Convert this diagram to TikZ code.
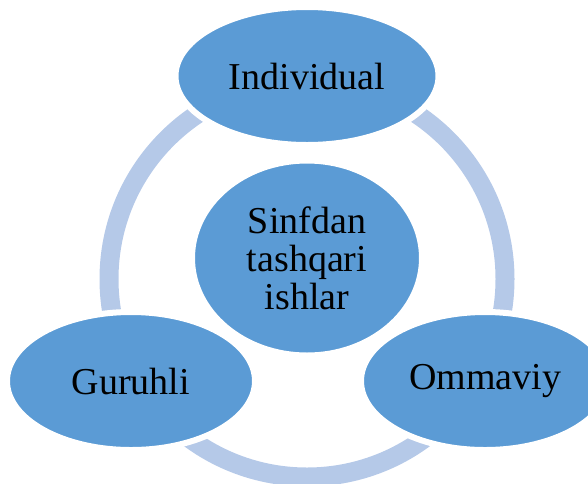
\documentclass[tikz,border=0pt]{standalone}
\usepackage{fontspec}
\setmainfont{Liberation Serif}
\usetikzlibrary{shapes.geometric}
\usetikzlibrary{positioning}

\definecolor{blobblue}{HTML}{5B9BD5}
\definecolor{ringblue}{HTML}{B5C9E8}

\tikzset{
  blob/.style={ellipse, fill=blobblue, draw=white, line width=6pt, inner sep=0pt,
    font=\fontsize{38}{38}\selectfont, align=center},
  ring/.style={draw=ringblue, line width=19pt}
}

\begin{document}
\begin{tikzpicture}[x=1pt, y=-1pt]

\useasboundingbox (0,0) rectangle (588,483);

% ring behind the ellipses
\def\r{198};
\coordinate (mid) at (307,279);
\draw[ring] (mid) circle[radius=\r];

% the three outer ellipses
\node[blob, minimum width=263pt, minimum height=138pt] (indiv) at (307,76) {Individual};
\node[blob, minimum width=248pt, minimum height=138pt] (guruh) at (131,381) {Guruhli};
\node[blob, minimum width=248pt, minimum height=138pt] (ommav) at (485,381) {Ommaviy};

% centre
\node[blob, minimum width=230pt, minimum height=195pt] (sinf) at (307,258) {Sinfdan\\tashqari\\ishlar};

\end{tikzpicture}
\end{document}
